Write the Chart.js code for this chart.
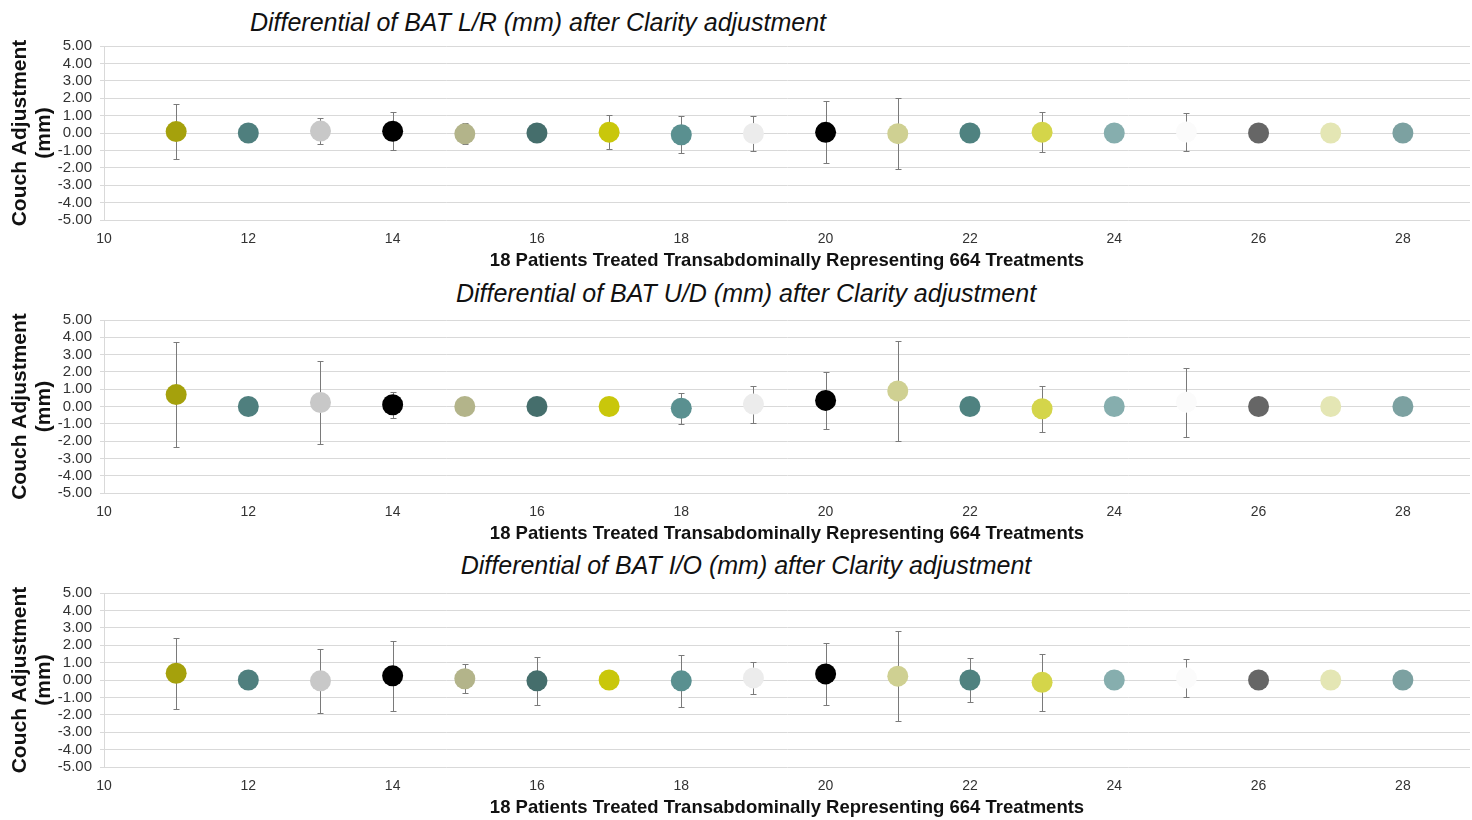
<!DOCTYPE html>
<html lang="en">
<head>
    <meta charset="UTF-8">
    <title>Differential of BAT after Clarity adjustment</title>
    <script src="https://cdn.jsdelivr.net/npm/chart.js"></script>
    <style>
        body {
            margin: 0;
            width: 1472px;
            height: 820px;
            overflow: hidden;
            background: #fff;
            font-family: 'Liberation Sans', Arial, sans-serif;
        }
        .panel {
            position: absolute;
            left: 0;
            width: 1472px;
        }
        .title {
            position: absolute;
            font-style: italic;
            font-size: 25px;
            line-height: 28px;
            color: #111;
            white-space: nowrap;
            transform: translateX(-50%);
        }
    </style>
</head>
<body>

<div class="title" style="left:538px; top:8px;">Differential of BAT L/R (mm) after Clarity adjustment</div>
<div class="panel" style="top:29px; height:243px;"><canvas id="chartLR"></canvas></div>

<div class="title" style="left:746px; top:279px;">Differential of BAT U/D (mm) after Clarity adjustment</div>
<div class="panel" style="top:303px; height:242px;"><canvas id="chartUD"></canvas></div>

<div class="title" style="left:746px; top:551px;">Differential of BAT I/O (mm) after Clarity adjustment</div>
<div class="panel" style="top:576px; height:243px;"><canvas id="chartIO"></canvas></div>

<script>
    // patient numbers on the x axis
    const patients = [11, 12, 13, 14, 15, 16, 17, 18, 19, 20, 21, 22, 23, 24, 25, 26, 27, 28];

    // one colour per patient, same in all three panels
    const patientColors = [
        '#a5a10c', '#4f7f7e', '#c8c8c8', '#000000', '#b3b48a', '#456e6c',
        '#c9c70b', '#5a9090', '#ececec', '#000000', '#cfd092', '#4f8280',
        '#d4d54a', '#86aeae', '#fbfbfb', '#666666', '#e4e6b4', '#7ca1a1'
    ];

    // L/R
    const lrMean = [0.08, 0, 0.11, 0.1, -0.05, 0, 0.05, -0.1, -0.03, 0.04, -0.04, 0, 0.05, 0, 0.06, 0, 0, 0];
    const lrErr  = [1.6, 0, 0.74, 1.1, 0.6, 0, 0.97, 1.05, 1.03, 1.78, 2.05, 0, 1.16, 0, 1.09, 0, 0, 0];

    // U/D
    const udMean = [0.69, 0, 0.23, 0.1, 0, 0, 0, -0.1, 0.14, 0.35, 0.9, 0, -0.13, 0, 0.25, 0, 0, 0];
    const udErr  = [3.03, 0, 2.42, 0.75, 0, 0, 0, 0.9, 1.07, 1.65, 2.88, 0, 1.32, 0, 2.0, 0, 0, 0];

    // I/O
    const ioMean = [0.39, 0, -0.05, 0.24, 0.07, -0.05, 0, -0.05, 0.12, 0.35, 0.22, 0, -0.13, 0, 0.12, 0, 0, 0];
    const ioErr  = [2.03, 0, 1.86, 2.01, 0.83, 1.4, 0, 1.51, 0.93, 1.76, 2.6, 1.24, 1.63, 0, 1.1, 0, 0, 0];

    const xTicks = [10, 12, 14, 16, 18, 20, 22, 24, 26, 28];
    const yTicks = [-5, -4, -3, -2, -1, 0, 1, 2, 3, 4, 5];
    const xTitle = '18 Patients Treated Transabdominally Representing 664 Treatments';
    const yTitle = ['Couch Adjustment', '(mm)'];

    Chart.defaults.font.family = "'Liberation Sans', Arial, sans-serif";
    Chart.defaults.color = '#333';

    // draws +/- error bars behind the markers
    const errorBars = {
        id: 'errorBars',
        beforeDatasetsDraw(chart, args, opts) {
            const { ctx, scales: { x, y } } = chart;
            const errs = opts.errors || [];
            ctx.save();
            ctx.strokeStyle = '#7a7a7a';
            ctx.lineWidth = 1;
            chart.data.datasets[0].data.forEach((p, i) => {
                const e = errs[i];
                if (!e) return;
                const px = Math.round(x.getPixelForValue(p.x)) + 0.5;
                const top = Math.round(y.getPixelForValue(p.y + e)) + 0.5;
                const bot = Math.round(y.getPixelForValue(p.y - e)) + 0.5;
                ctx.beginPath();
                ctx.moveTo(px, top); ctx.lineTo(px, bot);
                ctx.moveTo(px - 3, top); ctx.lineTo(px + 3, top);
                ctx.moveTo(px - 3, bot); ctx.lineTo(px + 3, bot);
                ctx.stroke();
            });
            ctx.restore();
        }
    };

    function makeChart(id, means, errs) {
        const points = patients.map((p, i) => ({ x: p, y: means[i] }));
        return new Chart(document.getElementById(id), {
            type: 'scatter',
            data: {
                datasets: [{
                    data: points,
                    pointRadius: 10.5,
                    pointHoverRadius: 10.5,
                    pointBorderWidth: 0,
                    pointBackgroundColor: patientColors,
                    pointBorderColor: patientColors
                }]
            },
            options: {
                responsive: true,
                maintainAspectRatio: false,
                animation: false,
                layout: { autoPadding: false, padding: { top: 0, right: 2, bottom: 2, left: 0 } },
                plugins: {
                    legend: { display: false },
                    tooltip: { enabled: false },
                    errorBars: { errors: errs }
                },
                scales: {
                    x: {
                        type: 'linear',
                        min: 10,
                        max: 28.93,
                        afterBuildTicks: (axis) => { axis.ticks = xTicks.map(v => ({ value: v })); },
                        afterFit: (axis) => {
                            axis.height = 50;
                            axis.paddingLeft = 0;
                            axis.paddingRight = 0;
                        },
                        grid: { display: false },
                        border: { display: false },
                        ticks: { padding: 3, font: { size: 14 }, color: '#333', autoSkip: false, maxRotation: 0 },
                        title: {
                            display: true,
                            text: xTitle,
                            color: '#111',
                            font: { size: 18.5, weight: 'bold', lineHeight: 1.0 },
                            padding: { top: 0, bottom: 0 }
                        }
                    },
                    y: {
                        min: -5,
                        max: 5,
                        afterBuildTicks: (axis) => { axis.ticks = yTicks.map(v => ({ value: v })); },
                        afterFit: (axis) => { axis.width = 104; },
                        grid: { color: '#d9d9d9', tickLength: 4, lineWidth: 1 },
                        border: { display: true, color: '#d9d9d9' },
                        ticks: {
                            padding: 8,
                            autoSkip: false,
                            font: { size: 15 },
                            color: '#333',
                            callback: (v) => Number(v).toFixed(2)
                        },
                        title: {
                            display: true,
                            text: yTitle,
                            color: '#111',
                            font: { size: 21, weight: 'bold', lineHeight: 1.15 },
                            padding: { top: 8, bottom: 0 }
                        }
                    }
                }
            },
            plugins: [errorBars]
        });
    }

    makeChart('chartLR', lrMean, lrErr);
    makeChart('chartUD', udMean, udErr);
    makeChart('chartIO', ioMean, ioErr);
</script>

</body>
</html>
